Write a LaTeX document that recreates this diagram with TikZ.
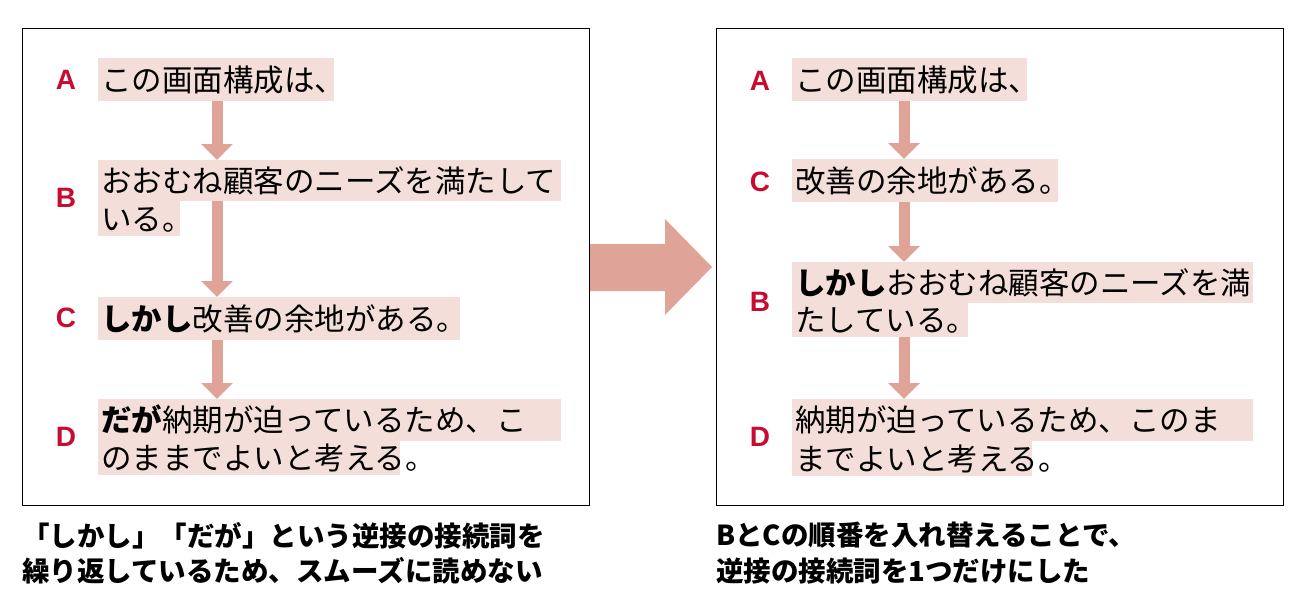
\documentclass[tikz,border=0pt]{standalone}
\usepackage{fontspec}
\setmainfont{Liberation Sans}
\newfontfamily\jp{Noto Sans CJK JP}
\newfontfamily\lab{Liberation Sans}
\usetikzlibrary{arrows.meta}
\definecolor{stripfill}{RGB}{244,222,217}
\definecolor{flowc}{RGB}{224,163,152}
\definecolor{labred}{RGB}{198,12,48}
\newcommand{\jpstrut}{\rule[-0.12em]{0pt}{1em}}
\newcommand{\sline}[6]{\node[stripbox, minimum height=#5pt] (#1) at (#2,#3) {\makebox[#4pt][l]{\hspace{3pt}\jpstrut #6}};}
\tikzset{
  frame/.style={draw=black, line width=1.1pt, inner sep=0pt, anchor=north west, minimum width=567pt, minimum height=477pt},
  stripbox/.style={fill=stripfill, inner sep=0pt, anchor=north west, font=\jp\fontsize{30.5}{36}\selectfont},
  lbl/.style={font=\lab\bfseries\fontsize{28}{32}\selectfont, text=labred, inner sep=0pt},
  flow/.style={draw=flowc, line width=11pt, -{Triangle[width=31pt,length=16pt]}},
  captext/.style={font=\jp\bfseries\fontsize{27.5}{35}\selectfont, anchor=base west, inner sep=0pt},
}
\begin{document}
\begin{tikzpicture}[x=1pt,y=-1pt]
\useasboundingbox (0,0) rectangle (1309,605);
% panels
\node[frame] (panelL) at (22,28) {};
\node[frame] (panelR) at (716,28) {};
% big arrow
\fill[flowc] (590,244) -- (665,244) -- (665,219) -- (712,267) -- (665,315) -- (665,291) -- (590,291) -- cycle;
% left panel
\coordinate (axL) at (217,0);
\sline{LA}{98}{58}{236}{43}{この画面構成は、}
\sline{LB1}{98}{160}{463}{41}{おおむね顧客のニーズを満たして}
\sline{LB2}{98}{201}{82}{35}{いる。}
\sline{LC}{98}{297}{362}{43}{{\bfseries しかし}改善の余地がある。}
\sline{LD1}{98}{399}{463}{42}{{\bfseries だが}納期が迫っているため、こ}
\sline{LD2}{98}{441}{302}{34}{のままでよいと考える。}
\node[lbl] (lLA) at (66,80) {A};
\node[lbl] (lLB) at (66,198) {B};
\node[lbl] (lLC) at (66,318) {C};
\node[lbl] (lLD) at (66,437) {D};
\draw[flow] (LA.south -| axL) -- (LB1.north -| axL);
\draw[flow] (LB1.south -| axL) -- (LC.north -| axL);
\draw[flow] (LC.south -| axL) -- (LD1.north -| axL);
% right panel
\coordinate (axR) at (904,0);
\sline{RA}{792}{58}{235}{43}{この画面構成は、}
\sline{RC}{792}{159}{266}{43}{改善の余地がある。}
\sline{RB1}{792}{262}{461}{41}{{\bfseries しかし}おおむね顧客のニーズを満}
\sline{RB2}{792}{303}{176}{34}{たしている。}
\sline{RD1}{792}{399}{461}{42}{納期が迫っているため、このま}
\sline{RD2}{792}{441}{240}{35}{までよいと考える。}
\node[lbl] (lRA) at (760,81) {A};
\node[lbl] (lRC) at (760,182) {C};
\node[lbl] (lRB) at (760,302) {B};
\node[lbl] (lRD) at (760,437) {D};
\draw[flow] (RA.south -| axR) -- (RC.north -| axR);
\draw[flow] (RC.south -| axR) -- (RB1.north -| axR);
\draw[flow] (RB2.south -| axR) -- (RD1.north -| axR);
% captions
\node[captext] (capL1) at (22,546) {「しかし」「だが」という逆接の接続詞を};
\node[captext] (capL2) at (22,581) {繰り返しているため、スムーズに読めない};
\node[captext] (capR1) at (716,545) {BとCの順番を入れ替えることで、};
\node[captext] (capR2) at (716,581) {逆接の接続詞を1つだけにした};
\end{tikzpicture}
\end{document}
